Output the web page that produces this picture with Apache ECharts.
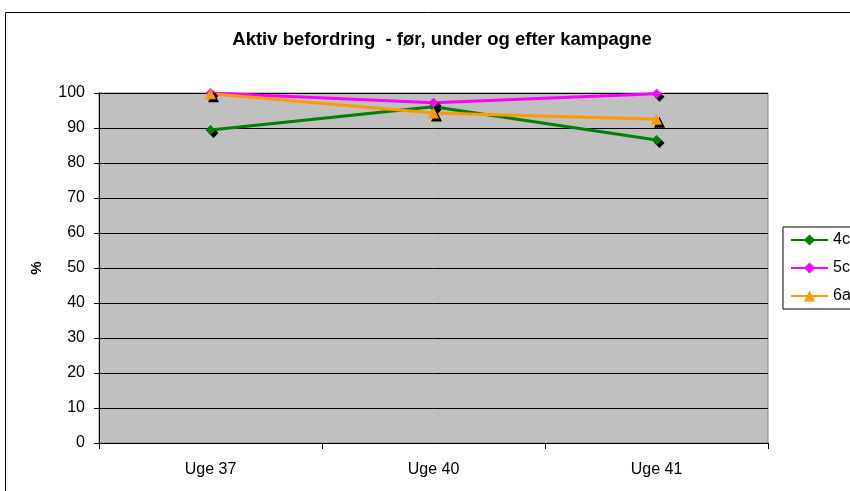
<!DOCTYPE html>
<html>
<head>
<meta charset="utf-8">
<script src="https://cdn.jsdelivr.net/npm/echarts@6/dist/echarts.min.js"></script>
<style>
  html, body { margin: 0; padding: 0; background: #fff; }
  #chart { width: 850px; height: 491px; }
</style>
</head>
<body>
<div id="chart"></div>
<script>
const weeks = ['Uge 37', 'Uge 40', 'Uge 41']
const class4c = [89.4, 96.1, 86.6]
const class5c = [100, 97.2, 99.8]
const class6a = [99.8, 94.3, 92.5]
const yTicks = [0, 10, 20, 30, 40, 50, 60, 70, 80, 90, 100]

const chart = echarts.init(document.getElementById('chart'))

const font = 'Liberation Sans, Arial, sans-serif'
const markerShadow = {
  shadowColor: '#000',
  shadowBlur: 0,
  shadowOffsetX: 3,
  shadowOffsetY: 3
}

function makeSeries(name, data, color, symbol, size) {
  return {
    name,
    type: 'line',
    data,
    symbol,
    symbolSize: size,
    lineStyle: { width: 3, color },
    itemStyle: { color, ...markerShadow },
    emphasis: { disabled: true },
    z: 3
  }
}

chart.setOption({
  backgroundColor: '#fff',
  animation: false,
  textStyle: { fontFamily: font },
  title: {
    text: 'Aktiv befordring  - før, under og efter kampagne',
    left: 437,
    top: 25,
    textAlign: 'center',
    textStyle: { fontSize: 18.5, fontWeight: 'bold', color: '#000', fontFamily: font }
  },
  graphic: [
    {
      type: 'rect',
      shape: { x: 5.5, y: 12.5, width: 900, height: 600 },
      style: { fill: 'none', stroke: '#000', lineWidth: 1 },
      silent: true
    }
  ],
  legend: {
    orient: 'vertical',
    left: 783,
    top: 227,
    itemWidth: 37,
    itemHeight: 14,
    itemGap: 12,
    padding: [5, 40, 5, 7],
    borderColor: '#000',
    borderWidth: 1,
    backgroundColor: '#fff',
    textStyle: { fontSize: 16, color: '#000' },
    data: ['4c', '5c', '6a']
  },
  grid: {
    left: 99,
    right: 82,
    top: 93,
    bottom: 48,
    show: true,
    backgroundColor: '#c0c0c0',
    borderColor: '#808080',
    borderWidth: 1
  },
  xAxis: {
    type: 'category',
    data: weeks,
    boundaryGap: true,
    axisLine: { lineStyle: { color: '#000', width: 1 } },
    axisTick: { show: true, length: 6, lineStyle: { color: '#000' } },
    axisLabel: { color: '#000', fontSize: 16, margin: 19 },
    splitLine: { show: false }
  },
  yAxis: {
    type: 'value',
    min: yTicks[0],
    max: yTicks[yTicks.length - 1],
    interval: 10,
    name: '%',
    nameLocation: 'middle',
    nameGap: 55,
    nameRotate: 90,
    nameTextStyle: { fontSize: 15, fontWeight: 'bold', color: '#000' },
    axisLine: { show: true, lineStyle: { color: '#000' } },
    axisTick: { show: true, inside: false, length: 5, lineStyle: { color: '#000' } },
    axisLabel: { color: '#000', fontSize: 16, margin: 14 },
    splitLine: { lineStyle: { color: '#000', width: 1 } }
  },
  series: [
    makeSeries('4c', class4c, '#008000', 'diamond', 10),
    makeSeries('5c', class5c, '#ff00ff', 'diamond', 10),
    makeSeries('6a', class6a, '#ff9900', 'triangle', 11)
  ]
})
</script>
</body>
</html>
